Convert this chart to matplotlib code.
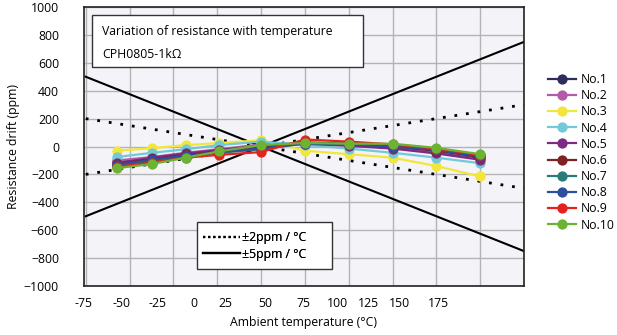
import numpy as np
import matplotlib
matplotlib.use('Agg')
import matplotlib.pyplot as plt
from matplotlib.lines import Line2D
from matplotlib.patches import Rectangle

plt.rcParams['font.family'] = ['Open Sans', 'DejaVu Sans']

# measured temperatures (deg C) and drift per sample (ppm)
temps = [-57, -37, -18, 1, 25, 50, 75, 100, 125, 150]
no1 = [-110, -85, -55, -30, 5, 20, 10, -10, -40, -80]
no2 = [-100, -75, -45, -20, 15, 25, 15, -5, -35, -75]
no3 = [-30, -12, 10, 25, 45, -30, -55, -80, -140, -215]
no4 = [-75, -45, -20, 10, 35, 10, -15, -45, -80, -120]
no5 = [-120, -80, -50, -25, 5, 20, 5, -15, -50, -95]
no6 = [-125, -90, -60, -35, -10, 30, 20, 0, -30, -75]
no7 = [-140, -105, -70, -45, -20, 25, 20, 5, -20, -65]
no8 = [-130, -95, -65, -40, -15, 20, 15, 0, -25, -70]
no9 = [-145, -115, -80, -60, -40, 50, 35, 15, -15, -60]
no10 = [-155, -125, -80, -35, 10, 25, 20, 20, -10, -55]

series = [no1, no2, no3, no4, no5, no6, no7, no8, no9, no10]
names = ['No.%d' % (i + 1) for i in range(10)]
colors = ['#2e2d5e', '#b55aa8', '#f2e63a', '#72c9d8', '#7d2a86',
          '#7b2423', '#2b7b78', '#2e4f9e', '#e2231f', '#6cb233']

# tolerance lines
tol_x = [-75, 175]
ref_t = 25

# tick label positions as they appear on the original chart
xtick_pos = [-76.0, -54.5, -34.3, -13.6, 4.9, 27.4, 49.0, 68.8, 86.5, 103.8, 126.3]
xtick_lab = ['-75', '-50', '-25', '0', '25', '50', '75', '100', '125', '150', '175']
yticks = list(range(-1000, 1001, 200))

FS = 8.8
W, H = 617, 335
L, R, T, B = 84, 524, 7, 286


def ax_xy(px, py):
    # pixel position -> axes fraction
    return (px - L) / (R - L), (B - py) / (B - T)


fig = plt.figure(figsize=(W / 100, H / 100), dpi=100)
ax = fig.add_axes([L / W, 1 - B / H, (R - L) / W, (B - T) / H])
ax.set_facecolor('#f4f3f8')

for rate, ls, lw in [(2, (0, (1, 3.2)), 2.0), (5, '-', 1.5)]:
    for s in (1, -1):
        ax.plot(tol_x, [s * rate * (t - ref_t) for t in tol_x],
                color='black', lw=lw, ls=ls, zorder=2)

for ys, c in zip(series, colors):
    ax.plot(temps, ys, color=c, lw=1.6, marker='o', ms=7.4,
            markeredgewidth=0, zorder=3)

ax.set_xlim(-75, 175)
ax.set_ylim(-1000, 1000)
ax.set_xticks(np.arange(-75, 176, 25), minor=True)
ax.set_yticks(yticks)
ax.set_xticks(xtick_pos)
ax.set_xticklabels(xtick_lab)
ax.grid(which='minor', axis='x', color='#b3b3b3', lw=1)
ax.grid(which='major', axis='y', color='#b3b3b3', lw=1)
ax.tick_params(which='both', length=0, labelsize=FS)
ax.tick_params(axis='y', pad=18)
ax.tick_params(axis='x', pad=8)
for sp in ax.spines.values():
    sp.set_color('#222222')
    sp.set_linewidth(1.2)
ax.set_axisbelow(True)

ax.set_ylabel('Resistance drift (ppm)', fontsize=FS, labelpad=3)
ax.set_xlabel('Ambient temperature (°C)', fontsize=FS, labelpad=4.5)

# title box
x0, y0 = ax_xy(92, 67)
x1, y1 = ax_xy(363, 15)
ax.add_patch(Rectangle((x0, y0), x1 - x0, y1 - y0, transform=ax.transAxes,
                       fc='white', ec='#333333', lw=1, zorder=5))
tx, ty = ax_xy(102, 31)
ax.text(tx, ty, 'Variation of resistance with temperature', transform=ax.transAxes,
        fontsize=FS, va='center', ha='left', zorder=6)
tx, ty = ax_xy(102, 54)
ax.text(tx, ty, 'CPH0805-1kΩ', transform=ax.transAxes,
        fontsize=FS, va='center', ha='left', zorder=6)

# tolerance legend
x0, y0 = ax_xy(197, 269)
x1, y1 = ax_xy(332, 222)
ax.add_patch(Rectangle((x0, y0), x1 - x0, y1 - y0, transform=ax.transAxes,
                       fc='white', ec='#333333', lw=1, zorder=5))
h_tol = [Line2D([], [], color='black', lw=1.6, ls=(0, (1, 1.3))),
         Line2D([], [], color='black', lw=1.6)]
leg1 = ax.legend(h_tol, ['±2ppm / °C', '±5ppm / °C'], loc='upper left',
                 bbox_to_anchor=ax_xy(203, 231), fontsize=FS, frameon=False,
                 handlelength=3.0, handletextpad=0.16, borderpad=0,
                 borderaxespad=0, labelspacing=0.3)
leg1.set_zorder(6)
ax.add_artist(leg1)

h_ser = [Line2D([], [], color=c, lw=1.6, marker='o', ms=7.4, markeredgewidth=0)
         for c in colors]
fig.legend(h_ser, names, loc='upper left', bbox_to_anchor=(537 / W, 1 - 62 / H),
           fontsize=FS, frameon=False, handlelength=2.3, handletextpad=0.35,
           labelspacing=0.26)

fig.savefig('out.png', dpi=100)
